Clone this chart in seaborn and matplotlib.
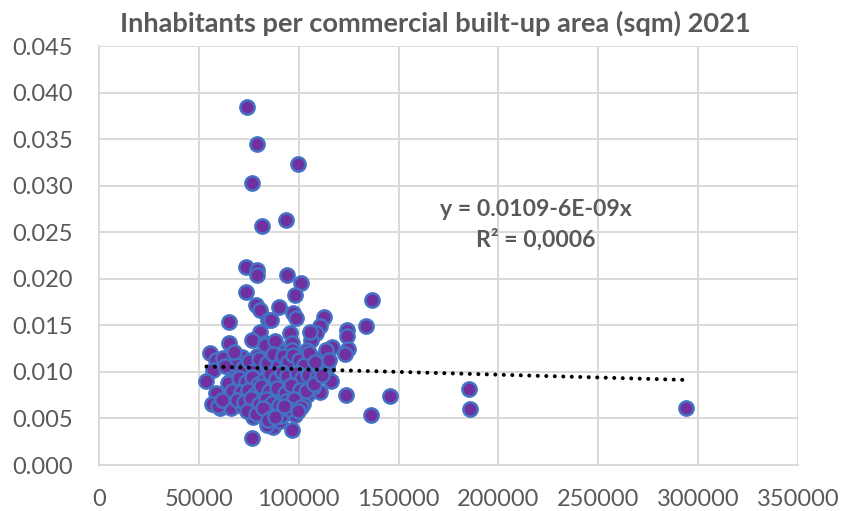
import matplotlib
matplotlib.use("Agg")
import matplotlib.pyplot as plt
import seaborn as sns
import pandas as pd
from matplotlib.ticker import FormatStrFormatter, FixedLocator

# Built-up commercial area per municipality (sqm) and inhabitants per sqm, 2021
commercial_area = [
    74300, 79000, 99700, 76800, 93500, 81800, 73500, 79300, 79300, 94100,
    101000, 73500, 98000, 136800, 133500, 124100, 124100, 116800, 124600, 123000,
    116300, 123500, 145500, 136300, 185200, 186000, 293800,
    78800, 80500, 90200, 97300, 98700, 112600, 84800, 65000, 110600,
    80600, 95600, 108900, 76400, 106400, 65300, 83100, 96400, 88900,
    55400, 70500, 79300, 97300, 103900, 111400, 58800, 62200, 88100,
    106400, 73800, 82200, 95600, 57200, 67200, 114000, 53800, 65500,
    82200, 98600, 90600, 75500, 58800, 69700, 103900, 110600, 56400,
    60500, 66300, 78800, 82200, 90600, 98100, 77300, 87300, 96500, 76400,
    101500, 107300, 83100, 71400, 86400, 86300, 105700, 88100, 96400,
    103900, 64700, 59600, 71400, 78000, 83900, 83900, 71400, 81400,
    102300, 90600, 106400, 112300, 92100, 87300,
    # dense core
    68000, 72000, 75000, 77500, 80000, 84000, 87000, 89500, 92000, 94500,
    97000, 100000, 102500, 105000, 108000, 70000, 73500, 76500, 79500, 82500,
    85500, 88500, 91500, 94000, 99000, 101500, 104500, 109000, 66500, 71000,
    74500, 78000, 81000, 85000, 89000, 93000, 96000, 100500, 103500, 107500,
    69000, 72500, 76000, 80000, 83500, 86500, 90000, 93500, 97500, 101000,
    74000, 78500, 82000, 86000, 91000, 95000, 99500, 84500, 88000, 92500,
    63000, 67500, 111500, 113500, 61500, 115000,
]
inhabitants_per_sqm = [
    0.0385, 0.0345, 0.0323, 0.0303, 0.0263, 0.0257, 0.0213, 0.0209, 0.0204, 0.0204,
    0.0196, 0.0186, 0.0183, 0.0177, 0.0149, 0.0145, 0.0139, 0.0127, 0.0125, 0.0119,
    0.0090, 0.0075, 0.0074, 0.0054, 0.0082, 0.0060, 0.0061,
    0.0172, 0.0167, 0.0170, 0.0163, 0.0158, 0.0159, 0.0156, 0.0154, 0.0149,
    0.0143, 0.0142, 0.0142, 0.0134, 0.0134, 0.0131, 0.0131, 0.0131, 0.0127,
    0.0120, 0.0116, 0.0117, 0.0122, 0.0124, 0.0115, 0.0113, 0.0115, 0.0113,
    0.0109, 0.0109, 0.0108, 0.0109, 0.0102, 0.0102, 0.0104, 0.0090, 0.0090,
    0.0095, 0.0094, 0.0082, 0.0084, 0.0077, 0.0074, 0.0075, 0.0078, 0.0066,
    0.0061, 0.0061, 0.0066, 0.0057, 0.0056, 0.0054, 0.0052, 0.0041, 0.0038, 0.0029,
    0.0066, 0.0084, 0.0129, 0.0116, 0.0115, 0.0156, 0.0143, 0.0133, 0.0124,
    0.0116, 0.0088, 0.0063, 0.0063, 0.0068, 0.0059, 0.0043, 0.0099, 0.0097,
    0.0066, 0.0047, 0.0104, 0.0102, 0.0073, 0.0059,
    0.0108, 0.0104, 0.0112, 0.0101, 0.0114, 0.0110, 0.0119, 0.0106, 0.0117, 0.0111,
    0.0118, 0.0113, 0.0107, 0.0120, 0.0111, 0.0093, 0.0089, 0.0095, 0.0087, 0.0091,
    0.0098, 0.0092, 0.0100, 0.0096, 0.0099, 0.0093, 0.0097, 0.0094, 0.0080, 0.0078,
    0.0081, 0.0076, 0.0085, 0.0079, 0.0083, 0.0077, 0.0086, 0.0081, 0.0079, 0.0087,
    0.0070, 0.0068, 0.0072, 0.0065, 0.0071, 0.0067, 0.0064, 0.0069, 0.0071, 0.0062,
    0.0058, 0.0055, 0.0061, 0.0050, 0.0053, 0.0060, 0.0058, 0.0048, 0.0052, 0.0063,
    0.0106, 0.0121, 0.0097, 0.0123, 0.0070, 0.0113,
]

# Linear trend as reported in the equation label
trend_intercept = 0.0109
trend_slope = -6e-09
trend_label = "y = 0.0109-6E-09x"
r2_label = "R\u00b2 = 0,0006"

title = "Inhabitants per commercial built-up area (sqm) 2021"
x_ticks = [0, 50000, 100000, 150000, 200000, 250000, 300000, 350000]
y_ticks = [0.000, 0.005, 0.010, 0.015, 0.020, 0.025, 0.030, 0.035, 0.040, 0.045]

df = pd.DataFrame({"area": commercial_area, "inh": inhabitants_per_sqm})

sns.set_theme(style="white")
plt.rcParams["font.family"] = ["Lato", "DejaVu Sans"]

text_grey = "#595959"
grid_grey = "#d9d9d9"

fig = plt.figure(figsize=(8.41, 5.11), dpi=100)
ax = fig.add_axes([99 / 841, 1 - 465 / 511, (798 - 99) / 841, (465 - 46) / 511])

sns.scatterplot(data=df, x="area", y="inh", ax=ax, s=105, color="#7030A0",
                edgecolor="#4472C4", linewidth=1.8, zorder=3, legend=False)

x0, x1 = min(commercial_area), max(commercial_area)
ax.plot([x0, x1], [trend_intercept + trend_slope * x0, trend_intercept + trend_slope * x1],
        color="black", linewidth=2.9, linestyle=(0, (0.01, 2.1)),
        dash_capstyle="round", zorder=4)

ax.set_xlim(x_ticks[0], x_ticks[-1])
ax.set_ylim(y_ticks[0], y_ticks[-1])
ax.xaxis.set_major_locator(FixedLocator(x_ticks))
ax.yaxis.set_major_locator(FixedLocator(y_ticks))
ax.yaxis.set_major_formatter(FormatStrFormatter("%.3f"))
ax.xaxis.set_major_formatter(FormatStrFormatter("%d"))
ax.grid(True, color=grid_grey, linewidth=1.4, zorder=0)
ax.set_axisbelow(True)
for side in ["top", "right"]:
    ax.spines[side].set_visible(False)
for side in ["left", "bottom"]:
    ax.spines[side].set_color(grid_grey)
    ax.spines[side].set_linewidth(1.4)
ax.tick_params(axis="both", length=0, labelsize=17, colors=text_grey)
ax.tick_params(axis="y", pad=19)
ax.tick_params(axis="x", pad=17)
ax.set_xlabel("")
ax.set_ylabel("")

ax.text(218500, 0.0274, trend_label, ha="center", va="center",
        fontsize=16.6, fontweight="bold", color=text_grey, zorder=5)
ax.text(218500, 0.0242, r2_label, ha="center", va="center",
        fontsize=16.6, fontweight="bold", color=text_grey, zorder=5)

fig.text(435 / 841, 1 - 23 / 511, title, ha="center", va="center",
         fontsize=19.6, fontweight="bold", color=text_grey)

fig.savefig("out.png", dpi=100)
